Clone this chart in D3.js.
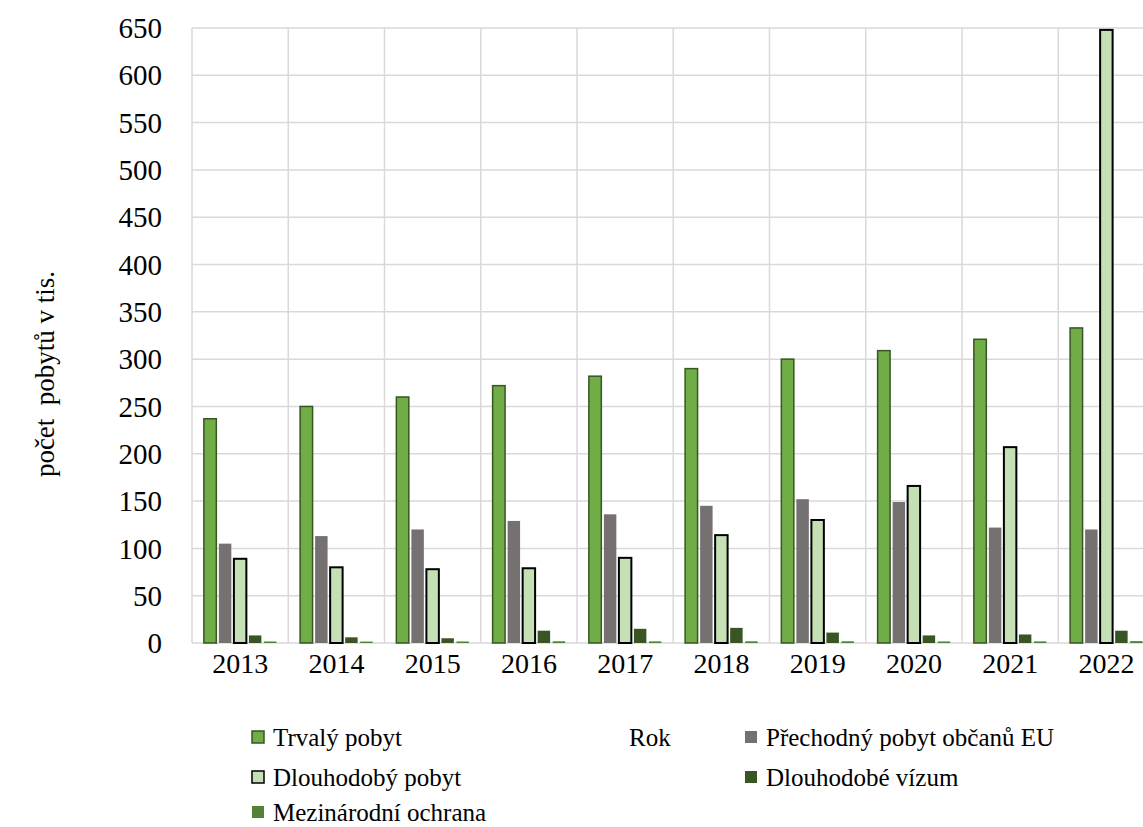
<!DOCTYPE html>
<html>
<head>
<meta charset="utf-8">
<script src="https://cdn.jsdelivr.net/npm/d3@7"></script>
<style>
  body { margin: 0; background: #fff; }
  svg { display: block; font-family: "Liberation Serif", "Times New Roman", serif; }
</style>
</head>
<body>
<div id="chart"></div>
<script>
// years on the category axis
var years = ["2013", "2014", "2015", "2016", "2017", "2018", "2019", "2020", "2021", "2022"];

// values in thousands
var trvaly      = [237, 250, 260, 272, 282, 290, 300, 309, 321, 333];
var prechodny   = [105, 113, 120, 129, 136, 145, 152, 149, 122, 120];
var dlouhodoby  = [89, 80, 78, 79, 90, 114, 130, 166, 207, 648];
var vizum       = [8, 6, 5, 13, 15, 16, 11, 8, 9, 13];
var ochrana     = [1.6, 1.5, 1.6, 1.8, 1.7, 1.8, 1.8, 1.6, 1.7, 2];

var yTicks = d3.range(0, 651, 50);

var series = [
  { name: "Trvalý pobyt", values: trvaly, fill: "#70AD47", stroke: "#375623" },
  { name: "Přechodný pobyt občanů EU", values: prechodny, fill: "#767171", stroke: "none" },
  { name: "Dlouhodobý pobyt", values: dlouhodoby, fill: "#C5E0B4", stroke: "#000" },
  { name: "Dlouhodobé vízum", values: vizum, fill: "#375623", stroke: "none" },
  { name: "Mezinárodní ochrana", values: ochrana, fill: "#548235", stroke: "none" }
];

var W = 1143, H = 827;
var margin = { top: 28, left: 192, bottom: 184 };
var plotW = 962.5, plotH = H - margin.top - margin.bottom;

var svg = d3.select("#chart").append("svg")
    .attr("width", W)
    .attr("height", H);

var x = d3.scaleBand().domain(years).range([margin.left, margin.left + plotW]);
var y = d3.scaleLinear().domain([0, 650]).range([margin.top + plotH, margin.top]);

// inner band for the five bars in one year
var x1 = d3.scaleBand()
    .domain(series.map(function (s) { return s.name; }))
    .range([0, x.bandwidth()])
    .paddingInner(0.17)
    .paddingOuter(0.79);

var grid = svg.append("g").attr("class", "grid");

// horizontal gridlines
grid.selectAll("line.h")
  .data(yTicks)
  .enter().append("line")
    .attr("class", "h")
    .attr("x1", margin.left).attr("x2", margin.left + plotW)
    .attr("y1", function (d) { return y(d); })
    .attr("y2", function (d) { return y(d); })
    .attr("stroke", "#D9D9D9")
    .attr("stroke-width", 1.5);

// vertical gridlines between the years
grid.selectAll("line.v")
  .data(years.concat(["end"]))
  .enter().append("line")
    .attr("class", "v")
    .attr("x1", function (d, i) { return margin.left + i * x.step(); })
    .attr("x2", function (d, i) { return margin.left + i * x.step(); })
    .attr("y1", margin.top)
    .attr("y2", margin.top + plotH)
    .attr("stroke", "#D9D9D9")
    .attr("stroke-width", 1.5);

// bars
var groups = svg.selectAll("g.series")
  .data(series)
  .enter().append("g")
    .attr("class", "series");

groups.selectAll("rect")
  .data(function (s) {
    return s.values.map(function (v, i) { return { s: s, v: v, year: years[i] }; });
  })
  .enter().append("rect")
    .attr("x", function (d) { return x(d.year) + x1(d.s.name); })
    .attr("width", x1.bandwidth())
    .attr("y", function (d) { return y(d.v); })
    .attr("height", function (d) { return y(0) - y(d.v); })
    .attr("fill", function (d) { return d.s.fill; })
    .attr("stroke", function (d) { return d.s.stroke; })
    .attr("stroke-width", function (d) { return d.s.stroke === "#000" ? 2 : 1.5; });

// y axis labels
svg.append("g")
  .selectAll("text")
  .data(yTicks)
  .enter().append("text")
    .attr("x", 162)
    .attr("y", function (d) { return y(d); })
    .attr("dy", "0.35em")
    .attr("text-anchor", "end")
    .attr("font-size", 29)
    .text(function (d) { return d; });

// x axis labels
svg.append("g")
  .selectAll("text")
  .data(years)
  .enter().append("text")
    .attr("x", function (d) { return x(d) + x.bandwidth() / 2; })
    .attr("y", margin.top + plotH + 30)
    .attr("text-anchor", "middle")
    .attr("font-size", 28)
    .text(function (d) { return d; });

// axis titles
svg.append("text")
  .attr("transform", "translate(54,374) rotate(-90)")
  .attr("text-anchor", "middle")
  .attr("font-size", 27)
  .attr("xml:space", "preserve")
  .text("počet  pobytů v tis.");

svg.append("text")
  .attr("x", 629)
  .attr("y", 746)
  .attr("font-size", 25)
  .text("Rok");

// legend
var legendPos = [
  { x: 252, y: 737 },
  { x: 745, y: 737 },
  { x: 252, y: 777 },
  { x: 745, y: 777 },
  { x: 252, y: 812 }
];

var legend = svg.selectAll("g.legend")
  .data(series)
  .enter().append("g")
    .attr("class", "legend")
    .attr("transform", function (d, i) {
      return "translate(" + legendPos[i].x + "," + legendPos[i].y + ")";
    });

legend.append("rect")
  .attr("x", 0).attr("y", -6)
  .attr("width", 12).attr("height", 12)
  .attr("fill", function (d) { return d.fill; })
  .attr("stroke", function (d) { return d.stroke; })
  .attr("stroke-width", 1.5);

legend.append("text")
  .attr("x", 21)
  .attr("dy", "0.35em")
  .attr("font-size", 25)
  .text(function (d) { return d.name; });
</script>
</body>
</html>
